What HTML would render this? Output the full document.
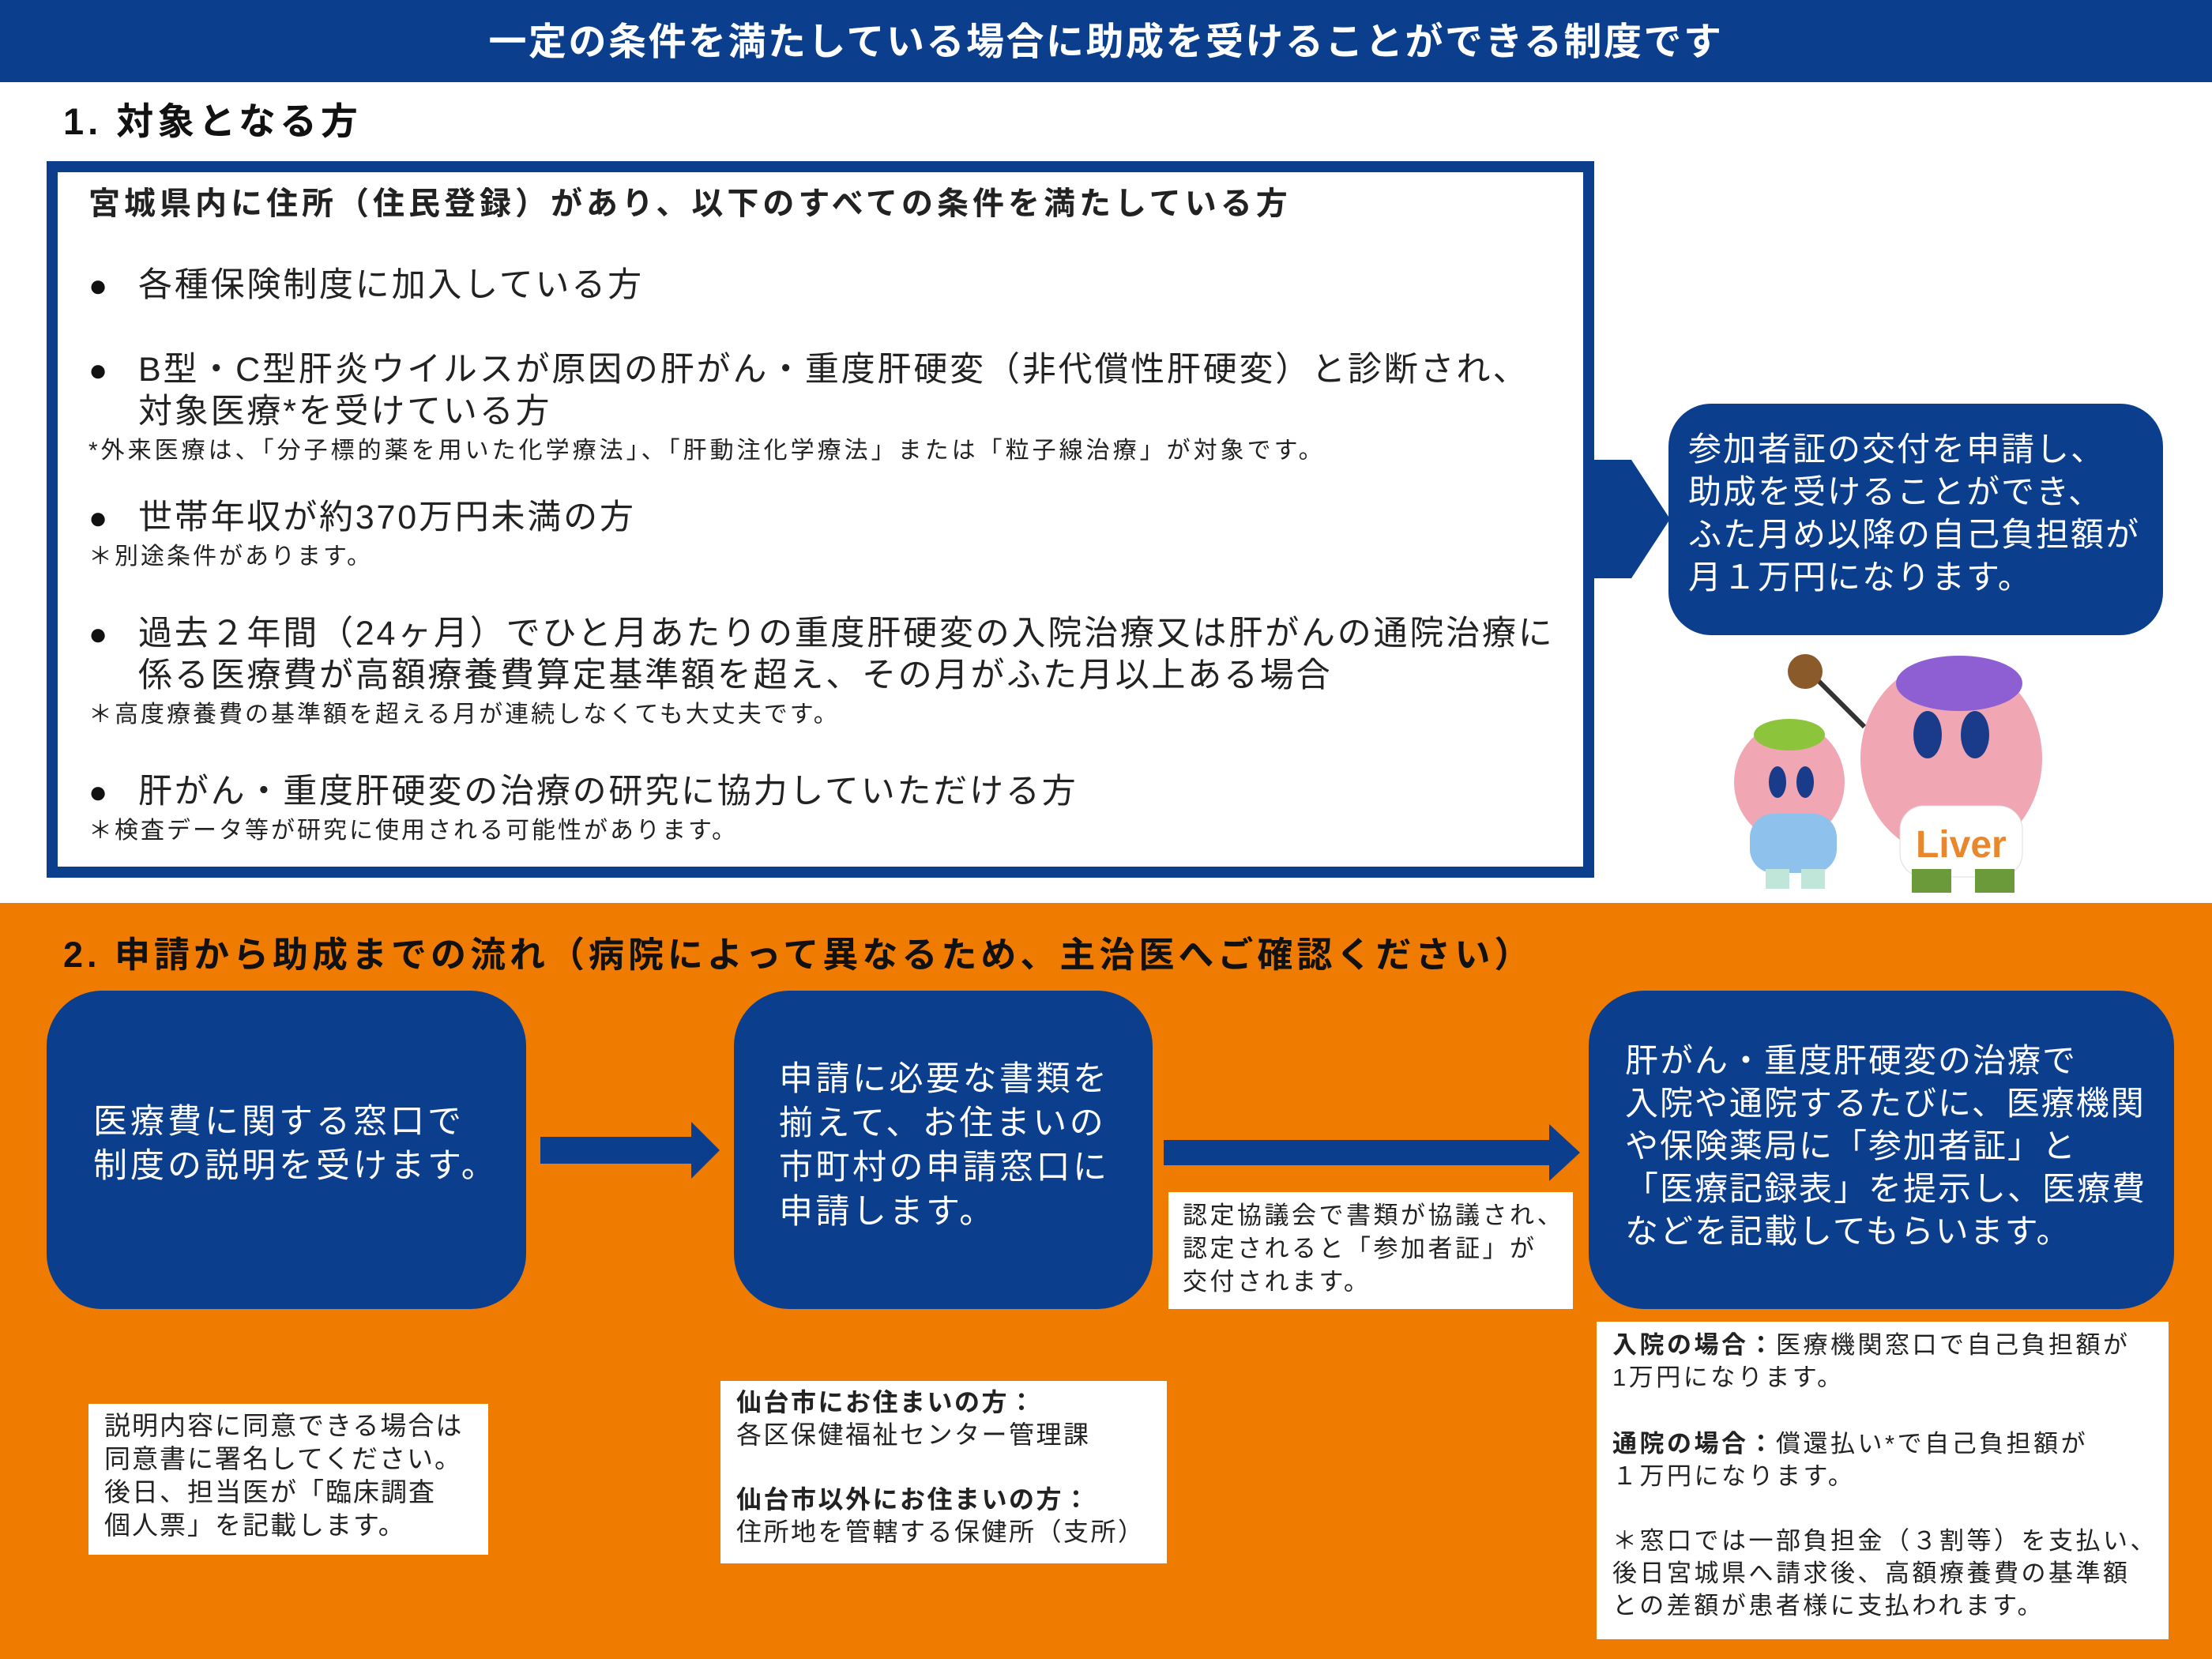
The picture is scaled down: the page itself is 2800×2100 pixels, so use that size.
<!DOCTYPE html>
<html><head><meta charset="utf-8"><style>
body{margin:0;width:2800px;height:2100px;position:relative;background:#fff;font-family:"Liberation Sans","Noto Sans CJK JP",sans-serif;overflow:hidden}
div{position:absolute;white-space:nowrap}
.t{line-height:1}
.b{font-weight:bold}
.blue{background:#0b3f8e}
.w{color:#fff}
.wb{background:#fff}
.bl{letter-spacing:2.8px}
.nt{letter-spacing:3px}
.dot{font-size:40px}
</style></head><body>
<div class="blue" style="left:0;top:0;width:2800px;height:104px"></div>
<div class="t b w" style="left:0;width:2800px;text-align:center;top:30px;font-size:48px;letter-spacing:2.5px">一定の条件を満たしている場合に助成を受けることができる制度です</div>
<div class="t b" style="left:80px;top:130px;font-size:47px;letter-spacing:5px;color:#111">1. 対象となる方</div>
<div style="left:59px;top:204px;width:1931px;height:879px;border:14px solid #0b3f8e"></div>
<div class="t b" style="left:112px;top:238px;font-size:40px;letter-spacing:5px;color:#222">宮城県内に住所（住民登録）があり、以下のすべての条件を満たしている方</div>
<div class="t dot" style="left:112px;top:342px;color:#111">●</div>
<div class="t bl" style="left:175px;top:340px;font-size:43px;color:#222">各種保険制度に加入している方</div>
<div class="t dot" style="left:112px;top:449px;color:#111">●</div>
<div class="t bl" style="left:175px;top:447px;font-size:43px;color:#222">B型・C型肝炎ウイルスが原因の肝がん・重度肝硬変（非代償性肝硬変）と診断され、</div>
<div class="t bl" style="left:175px;top:500px;font-size:43px;color:#222">対象医療*を受けている方</div>
<div class="t" style="left:112px;top:556px;font-size:30px;letter-spacing:4px;color:#222">*外来医療は、「分子標的薬を用いた化学療法」、「肝動注化学療法」または「粒子線治療」が対象です。</div>
<div class="t dot" style="left:112px;top:636px;color:#111">●</div>
<div class="t bl" style="left:175px;top:634px;font-size:43px;color:#222">世帯年収が約370万円未満の方</div>
<div class="t nt" style="left:112px;top:690px;font-size:30px;color:#222">＊別途条件があります。</div>
<div class="t dot" style="left:112px;top:783px;color:#111">●</div>
<div class="t bl" style="left:175px;top:781px;font-size:43px;color:#222">過去２年間（24ヶ月）でひと月あたりの重度肝硬変の入院治療又は肝がんの通院治療に</div>
<div class="t bl" style="left:175px;top:834px;font-size:43px;color:#222">係る医療費が高額療養費算定基準額を超え、その月がふた月以上ある場合</div>
<div class="t nt" style="left:112px;top:890px;font-size:30px;color:#222">＊高度療養費の基準額を超える月が連続しなくても大丈夫です。</div>
<div class="t dot" style="left:112px;top:983px;color:#111">●</div>
<div class="t bl" style="left:175px;top:981px;font-size:43px;color:#222">肝がん・重度肝硬変の治療の研究に協力していただける方</div>
<div class="t nt" style="left:112px;top:1037px;font-size:30px;color:#222">＊検査データ等が研究に使用される可能性があります。</div>
<svg style="position:absolute;left:0;top:0" width="2800" height="2100">
<polygon points="2018,582,2065,582,2114,657,2065,732,2018,732" fill="#0b3f8e"/>
</svg>
<div class="blue" style="left:2112px;top:511px;width:626px;height:293px;border-radius:54px"></div>
<div class="w" style="left:2137px;top:542px;font-size:42px;line-height:54px;letter-spacing:2px">参加者証の交付を申請し、<br>助成を受けることができ、<br>ふた月め以降の自己負担額が<br>月１万円になります。</div>
<div style="left:0;top:1143px;width:2800px;height:957px;background:#ef7b00"></div>
<svg style="position:absolute;left:2170px;top:810px" width="500" height="330">
<line x1="120" y1="40" x2="190" y2="110" stroke="#333" stroke-width="6"/>
<circle cx="115" cy="40" r="22" fill="#8a5a2b"/>
<ellipse cx="300" cy="150" rx="115" ry="125" fill="#f0a7b3"/>
<ellipse cx="310" cy="55" rx="80" ry="35" fill="#8d5fd3"/>
<rect x="235" y="210" width="155" height="90" rx="30" fill="#fff" stroke="#ddd"/>
<text x="255" y="275" font-size="48" font-weight="bold" fill="#e8872c" font-family="Liberation Sans,sans-serif">Liver</text>
<rect x="250" y="290" width="50" height="30" fill="#6a9a3a"/><rect x="330" y="290" width="50" height="30" fill="#6a9a3a"/>
<ellipse cx="270" cy="120" rx="18" ry="30" fill="#1a3a8a"/><ellipse cx="330" cy="120" rx="18" ry="30" fill="#1a3a8a"/>
<ellipse cx="95" cy="180" rx="70" ry="75" fill="#f0a7b3"/>
<ellipse cx="95" cy="120" rx="45" ry="20" fill="#8cc43c"/>
<rect x="45" y="220" width="110" height="75" rx="30" fill="#8ec1ec"/>
<ellipse cx="80" cy="180" rx="11" ry="20" fill="#1a3a8a"/><ellipse cx="115" cy="180" rx="11" ry="20" fill="#1a3a8a"/>
<rect x="65" y="290" width="30" height="25" fill="#bfe6d8"/><rect x="110" y="290" width="30" height="25" fill="#bfe6d8"/>
</svg>
<div class="t b" style="left:80px;top:1186px;font-size:45px;letter-spacing:5px;color:#111">2. 申請から助成までの流れ（病院によって異なるため、主治医へご確認ください）</div>
<div class="blue" style="left:59px;top:1254px;width:607px;height:403px;border-radius:70px"></div>
<div class="w" style="left:118px;top:1392px;font-size:43px;line-height:56px;letter-spacing:4px">医療費に関する窓口で<br>制度の説明を受けます。</div>
<div class="blue" style="left:929px;top:1254px;width:530px;height:403px;border-radius:70px"></div>
<div class="w" style="left:986px;top:1338px;font-size:43px;line-height:56px;letter-spacing:3.5px">申請に必要な書類を<br>揃えて、お住まいの<br>市町村の申請窓口に<br>申請します。</div>
<div class="blue" style="left:2011px;top:1254px;width:741px;height:403px;border-radius:70px"></div>
<div class="w" style="left:2057px;top:1316px;font-size:42px;line-height:54px;letter-spacing:2px">肝がん・重度肝硬変の治療で<br>入院や通院するたびに、医療機関<br>や保険薬局に「参加者証」と<br>「医療記録表」を提示し、医療費<br>などを記載してもらいます。</div>
<svg style="position:absolute;left:0;top:0" width="2800" height="2100">
<polygon points="684,1439,875,1439,875,1420,911,1456,875,1492,875,1473,684,1473" fill="#0b3f8e"/>
<polygon points="1473,1443,1961,1443,1961,1423,2000,1459,1961,1495,1961,1475,1473,1475" fill="#0b3f8e"/>
</svg>
<div class="wb" style="left:1479px;top:1509px;width:512px;height:148px"></div>
<div style="left:1497px;top:1518px;font-size:31px;line-height:42px;letter-spacing:3.5px;color:#222">認定協議会で書類が協議され、<br>認定されると「参加者証」が<br>交付されます。</div>
<div class="wb" style="left:2021px;top:1673px;width:724px;height:402px"></div>
<div style="left:2041px;top:1682px;font-size:31px;line-height:41px;letter-spacing:3.5px;color:#222"><b>入院の場合：</b>医療機関窓口で自己負担額が<br>1万円になります。<br><span style="line-height:43px">&nbsp;</span><br><b>通院の場合：</b>償還払い*で自己負担額が<br>１万円になります。<br>&nbsp;<br>＊窓口では一部負担金（３割等）を支払い、<br>後日宮城県へ請求後、高額療養費の基準額<br>との差額が患者様に支払われます。</div>
<div class="wb" style="left:112px;top:1777px;width:506px;height:191px"></div>
<div style="left:132px;top:1784px;font-size:33px;line-height:42px;letter-spacing:2px;color:#222">説明内容に同意できる場合は<br>同意書に署名してください。<br>後日、担当医が「臨床調査<br>個人票」を記載します。</div>
<div class="wb" style="left:912px;top:1748px;width:565px;height:231px"></div>
<div style="left:932px;top:1755px;font-size:32px;line-height:41px;letter-spacing:2.5px;color:#222"><b>仙台市にお住まいの方：</b><br>各区保健福祉センター管理課<br>&nbsp;<br><b>仙台市以外にお住まいの方：</b><br>住所地を管轄する保健所（支所）</div>
</body></html>
